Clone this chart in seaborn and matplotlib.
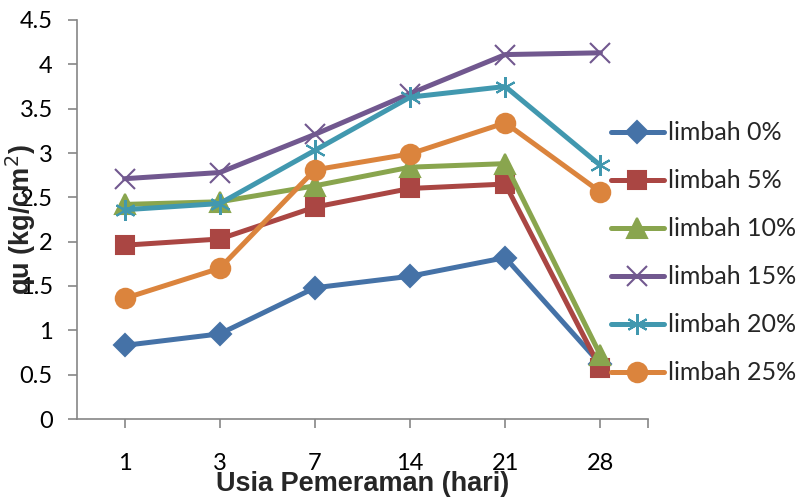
import matplotlib
matplotlib.use("Agg")
import matplotlib.pyplot as plt
import seaborn as sns
import numpy as np

# Curing age (days) and unconfined compressive strength qu (kg/cm2)
days = ["1", "3", "7", "14", "21", "28"]
limbah_0 = [0.83, 0.96, 1.48, 1.61, 1.82, 0.62]
limbah_5 = [1.96, 2.03, 2.39, 2.60, 2.65, 0.57]
limbah_10 = [2.42, 2.45, 2.63, 2.84, 2.88, 0.72]
limbah_15 = [2.71, 2.78, 3.21, 3.67, 4.11, 4.13]
limbah_20 = [2.36, 2.43, 3.03, 3.63, 3.75, 2.86]
limbah_25 = [1.36, 1.70, 2.81, 2.99, 3.34, 2.56]

series_names = ["limbah 0%", "limbah 5%", "limbah 10%",
                "limbah 15%", "limbah 20%", "limbah 25%"]
series_values = [limbah_0, limbah_5, limbah_10, limbah_15, limbah_20, limbah_25]
y_ticks = [0, 0.5, 1, 1.5, 2, 2.5, 3, 3.5, 4, 4.5]
y_tick_labels = ["0", "0.5", "1", "1.5", "2", "2.5", "3", "3.5", "4", "4.5"]

colors = ["#4572A7", "#AA4643", "#89A54E", "#71588F", "#4198AF", "#DB843D"]
markers = ["D", "s", "^", "x", (6, 2, 0), "o"]
msizes = [11, 12.5, 14, 15, 15, 14]

sns.set_theme(style="white")
plt.rcParams["font.family"] = ["Lato", "DejaVu Sans"]

fig = plt.figure(figsize=(7.96, 4.97), dpi=100)
ax = fig.add_axes([77 / 796, 1 - 419 / 497, (648 - 77) / 796, (419 - 20) / 497])

pos = np.arange(len(days))
for name, vals, c, m, ms in zip(series_names, series_values, colors, markers, msizes):
    sns.lineplot(x=pos, y=vals, ax=ax, color=c, marker=m, markersize=ms,
                 markeredgecolor=c, markerfacecolor=c, markeredgewidth=1.5,
                 linewidth=3.6, label=name, solid_joinstyle="round",
                 solid_capstyle="round", clip_on=False)

ax.set_xlim(-0.5, 5.5)
ax.set_ylim(0, 4.5)
ax.set_xticks(pos)
ax.set_xticklabels(days)
ax.set_xticks([5.5], minor=True)
ax.set_yticks(y_ticks)
ax.set_yticklabels(y_tick_labels)

for side in ["top", "right"]:
    ax.spines[side].set_visible(False)
for side in ["left", "bottom"]:
    ax.spines[side].set_color("#868686")
    ax.spines[side].set_linewidth(1.2)

ax.tick_params(axis="y", which="major", direction="out", length=6.5, width=1.2,
               color="#868686", labelsize=17, pad=11, left=True)
ax.tick_params(axis="x", which="both", direction="out", length=6.5, width=1.2,
               color="#868686", labelsize=17, pad=18, bottom=True)
for lab in ax.get_xticklabels() + ax.get_yticklabels():
    lab.set_color("black")

ax.set_xlabel("Usia Pemeraman (hari)", fontsize=19.5, fontweight="bold",
              family="Liberation Sans", labelpad=0)
ax.xaxis.set_label_coords(0.5, -0.13)
ax.set_ylabel("qu (kg/cm$^2$)", fontsize=19.5, fontweight="bold",
              family="Liberation Sans")
ax.yaxis.set_label_coords(-0.068, 0.5)

leg = ax.legend(loc="center left", bbox_to_anchor=(611 / 796, 1 - 253 / 497),
                bbox_transform=fig.transFigure, frameon=False, fontsize=18,
                handlelength=2.1, handletextpad=0.2, labelspacing=1.0,
                borderpad=0, borderaxespad=0)

fig.savefig("out.png", dpi=100)
